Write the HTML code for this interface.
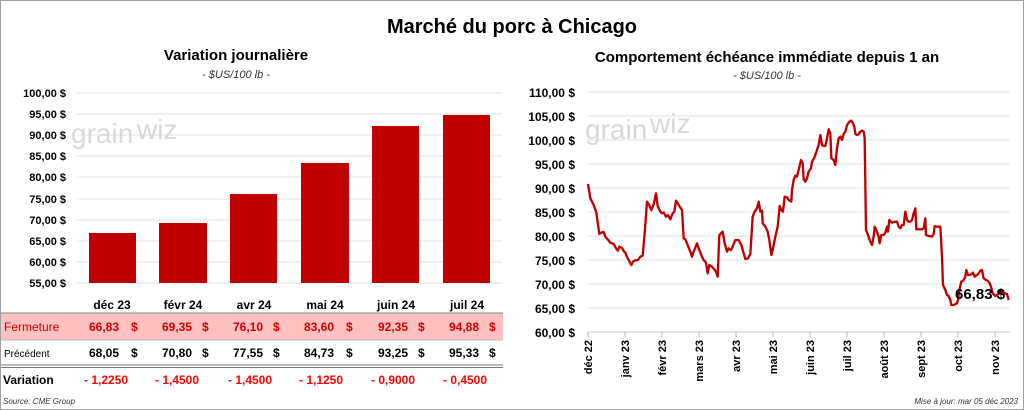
<!DOCTYPE html>
<html><head><meta charset="utf-8"><style>
html,body{margin:0;padding:0;background:#fff}
svg{display:block;font-family:"Liberation Sans",sans-serif}
</style></head><body>
<svg width="1024" height="410" viewBox="0 0 1024 410">
<rect x="0.5" y="0.5" width="1023" height="409" fill="#fff" stroke="#a0a0a0"/>
<text x="512" y="33" text-anchor="middle" font-size="20" font-weight="bold">Marché du porc à Chicago</text>
<!-- left -->
<text x="236" y="60" text-anchor="middle" font-size="15" font-weight="bold">Variation  journalière</text>
<text x="236" y="78" text-anchor="middle" font-size="11" font-style="italic" fill="#333">- $US/100 lb -</text>
<g stroke="#e0e0e0" stroke-width="1">
<line x1="77" x2="502" y1="93" y2="93"/><line x1="77" x2="502" y1="114" y2="114"/><line x1="77" x2="502" y1="135" y2="135"/><line x1="77" x2="502" y1="156" y2="156"/><line x1="77" x2="502" y1="177" y2="177"/><line x1="77" x2="502" y1="199" y2="199"/><line x1="77" x2="502" y1="220" y2="220"/><line x1="77" x2="502" y1="241" y2="241"/><line x1="77" x2="502" y1="262" y2="262"/><line x1="77" x2="502" y1="283" y2="283"/>
</g>
<text x="71" y="143" font-size="28" fill="#d8d8d8">grain</text><text x="137" y="139" font-size="28" fill="#d8d8d8">wiz</text>
<g font-size="11" font-weight="bold" text-anchor="end">
<text x="66" y="97">100,00 $</text><text x="66" y="118">95,00 $</text><text x="66" y="139">90,00 $</text><text x="66" y="160">85,00 $</text><text x="66" y="181">80,00 $</text><text x="66" y="203">75,00 $</text><text x="66" y="224">70,00 $</text><text x="66" y="245">65,00 $</text><text x="66" y="266">60,00 $</text><text x="66" y="287">55,00 $</text>
</g>
<g fill="#c00000">
<rect x="89" y="233" width="47" height="50"/><rect x="159" y="223" width="48" height="60"/><rect x="230" y="194" width="47" height="89"/><rect x="301" y="163" width="48" height="120"/><rect x="372" y="126" width="47" height="157"/><rect x="443" y="115" width="47" height="168"/>
</g>
<g font-size="12" font-weight="bold" text-anchor="middle">
<text x="112" y="309">déc 23</text><text x="183" y="309">févr 24</text><text x="254" y="309">avr 24</text><text x="325" y="309">mai 24</text><text x="396" y="309">juin 24</text><text x="467" y="309">juil 24</text>
</g>
<rect x="1" y="313" width="502" height="27" fill="#ffc0c0"/>
<line x1="1" x2="503" y1="313" y2="313" stroke="#888"/>
<line x1="1" x2="503" y1="340" y2="340" stroke="#bbb"/>
<line x1="1" x2="503" y1="365" y2="365" stroke="#777"/>
<line x1="1" x2="503" y1="367.5" y2="367.5" stroke="#777"/>
<g font-size="12" font-weight="bold" fill="#d00000">
<text x="4" y="331" font-weight="normal">Fermeture</text>
<text x="89" y="331">66,83</text><text x="131" y="331">$</text>
<text x="162" y="331">69,35</text><text x="202" y="331">$</text>
<text x="233" y="331">76,10</text><text x="273" y="331">$</text>
<text x="304" y="331">83,60</text><text x="346" y="331">$</text>
<text x="378" y="331">92,35</text><text x="418" y="331">$</text>
<text x="449" y="331">94,88</text><text x="489" y="331">$</text>
</g>
<g font-size="12" font-weight="bold" fill="#000">
<text x="4" y="357" font-size="10" font-weight="normal">Précédent</text>
<text x="89" y="357">68,05</text><text x="131" y="357">$</text>
<text x="162" y="357">70,80</text><text x="202" y="357">$</text>
<text x="233" y="357">77,55</text><text x="273" y="357">$</text>
<text x="304" y="357">84,73</text><text x="346" y="357">$</text>
<text x="378" y="357">93,25</text><text x="418" y="357">$</text>
<text x="449" y="357">95,33</text><text x="489" y="357">$</text>
<text x="3" y="384">Variation</text>
</g>
<g font-size="12" font-weight="bold" fill="#ff0000">
<text x="84" y="384">- 1,2250</text><text x="155" y="384">- 1,4500</text><text x="228" y="384">- 1,4500</text><text x="299" y="384">- 1,1250</text><text x="371" y="384">- 0,9000</text><text x="443" y="384">- 0,4500</text>
</g>
<text x="3" y="404" font-size="8" font-style="italic" fill="#333">Source: CME Group</text>
<!-- right -->
<text x="767" y="62" text-anchor="middle" font-size="15" font-weight="bold">Comportement  échéance immédiate depuis 1 an</text>
<text x="767" y="79" text-anchor="middle" font-size="11" font-style="italic" fill="#333">- $US/100 lb -</text>
<g stroke="#e0e0e0">
<line x1="587" x2="1010" y1="92" y2="92"/><line x1="587" x2="1010" y1="116" y2="116"/><line x1="587" x2="1010" y1="140" y2="140"/><line x1="587" x2="1010" y1="164" y2="164"/><line x1="587" x2="1010" y1="188" y2="188"/><line x1="587" x2="1010" y1="212" y2="212"/><line x1="587" x2="1010" y1="236" y2="236"/><line x1="587" x2="1010" y1="260" y2="260"/><line x1="587" x2="1010" y1="284" y2="284"/><line x1="587" x2="1010" y1="308" y2="308"/>
</g>
<line x1="587" x2="1010" y1="332" y2="332" stroke="#ccc"/>
<text x="585" y="139" font-size="28" fill="#d8d8d8">grain</text><text x="650" y="133" font-size="28" fill="#d8d8d8">wiz</text>
<g font-size="12" font-weight="bold" text-anchor="end">
<text x="575" y="97">110,00 $</text><text x="575" y="121">105,00 $</text><text x="575" y="145">100,00 $</text><text x="575" y="169">95,00 $</text><text x="575" y="193">90,00 $</text><text x="575" y="217">85,00 $</text><text x="575" y="241">80,00 $</text><text x="575" y="265">75,00 $</text><text x="575" y="289">70,00 $</text><text x="575" y="313">65,00 $</text><text x="575" y="337">60,00 $</text>
</g>
<g stroke="#bbb"><line x1="588" x2="588" y1="332" y2="337"/><line x1="625" x2="625" y1="332" y2="337"/><line x1="662" x2="662" y1="332" y2="337"/><line x1="699" x2="699" y1="332" y2="337"/><line x1="736" x2="736" y1="332" y2="337"/><line x1="773" x2="773" y1="332" y2="337"/><line x1="810" x2="810" y1="332" y2="337"/><line x1="847" x2="847" y1="332" y2="337"/><line x1="884" x2="884" y1="332" y2="337"/><line x1="921" x2="921" y1="332" y2="337"/><line x1="958" x2="958" y1="332" y2="337"/><line x1="995" x2="995" y1="332" y2="337"/></g>
<g font-size="11" font-weight="bold" text-anchor="end">
<text transform="translate(592,340) rotate(-90)">déc 22</text>
<text transform="translate(629,340) rotate(-90)">janv 23</text>
<text transform="translate(666,340) rotate(-90)">févr 23</text>
<text transform="translate(703,340) rotate(-90)">mars 23</text>
<text transform="translate(740,340) rotate(-90)">avr 23</text>
<text transform="translate(777,340) rotate(-90)">mai 23</text>
<text transform="translate(814,340) rotate(-90)">juin 23</text>
<text transform="translate(851,340) rotate(-90)">juil 23</text>
<text transform="translate(888,340) rotate(-90)">août 23</text>
<text transform="translate(925,340) rotate(-90)">sept 23</text>
<text transform="translate(962,340) rotate(-90)">oct 23</text>
<text transform="translate(999,340) rotate(-90)">nov 23</text>
</g>
<g transform="translate(512,80) scale(0.33333)">
<polyline fill="none" stroke="#c00000" stroke-width="7" stroke-linejoin="round" points="228,312 235,355 245,375 253,398 262,462 268,458 275,456 280,470 287,478 295,488 300,490 305,492 312,505 318,512 322,500 330,504 335,513 340,518 345,530 350,540 358,555 363,545 370,541 378,540 385,530 392,527 398,460 405,365 410,372 418,390 425,373 432,340 437,378 445,395 450,400 455,397 462,410 468,405 475,418 482,400 487,395 492,362 500,375 510,390 515,475 520,478 528,498 535,515 540,530 545,515 555,490 560,505 570,530 575,540 582,548 587,580 592,555 600,560 607,568 612,575 617,590 622,465 632,455 638,490 645,515 650,505 657,510 662,500 670,480 680,480 688,495 695,520 700,537 708,535 715,522 722,410 728,395 735,385 740,365 745,395 750,392 752,430 760,440 767,455 772,480 778,525 782,510 790,470 797,440 803,378 808,390 813,395 818,350 825,352 830,360 838,365 840,330 845,300 850,287 855,290 860,270 867,240 872,250 875,298 880,305 885,295 890,275 897,265 900,245 907,233 915,210 920,195 925,165 930,195 935,198 940,198 945,175 950,148 955,160 958,235 965,240 970,255 975,205 980,175 985,170 990,180 995,162 1000,155 1005,135 1012,125 1018,122 1022,128 1027,140 1030,162 1035,165 1040,163 1045,155 1050,152 1055,155 1058,175 1062,450 1068,465 1075,485 1080,495 1085,470 1088,440 1093,450 1100,470 1103,490 1108,465 1115,465 1120,458 1125,440 1128,455 1132,420 1140,428 1150,425 1155,425 1160,440 1165,445 1170,435 1175,435 1180,395 1185,420 1190,425 1195,425 1200,420 1205,400 1210,385 1213,448 1220,448 1230,448 1235,445 1240,415 1242,465 1250,468 1260,470 1265,462 1268,438 1275,440 1285,440 1290,530 1293,615 1300,630 1305,645 1310,648 1315,660 1318,675 1325,675 1335,670 1338,660 1342,630 1348,605 1355,600 1360,590 1363,570 1368,585 1375,585 1383,578 1388,590 1395,585 1400,580 1405,572 1410,570 1415,595 1422,600 1428,603 1433,610 1437,620 1442,640 1450,648 1458,643 1462,635 1470,635 1478,640 1485,642 1490,660"/>
</g>
<text x="955" y="299" font-size="15" font-weight="bold">66,83 $</text>
<text x="1018" y="404" text-anchor="end" font-size="8" font-style="italic" fill="#333">Mise à jour: mar 05 déc 2023</text>
</svg>
</body></html>
